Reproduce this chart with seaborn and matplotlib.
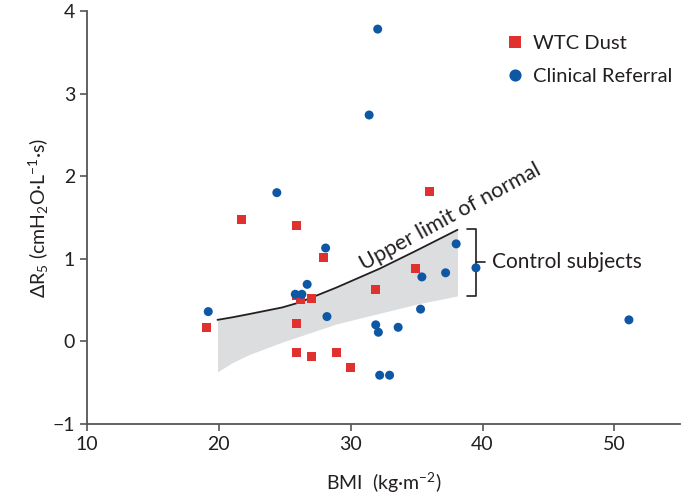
import numpy as np
import pandas as pd
import matplotlib
matplotlib.use("Agg")
import matplotlib.pyplot as plt
import seaborn as sns

sns.set_theme(style="ticks")
plt.rcParams["font.family"] = ["Lato", "DejaVu Sans"]
plt.rcParams["mathtext.fontset"] = "custom"
plt.rcParams["mathtext.rm"] = "Lato"
plt.rcParams["mathtext.it"] = "Lato:italic"

# WTC dust exposed subjects (red squares)
wtc_bmi = [21.7, 25.9, 36.0, 27.95, 25.9, 26.2, 27.0, 19.1, 25.9, 31.9, 34.9, 25.9, 27.0, 28.9, 30.0]
wtc_dr5 = [1.48, 1.40, 1.81, 1.01, 0.55, 0.51, 0.52, 0.17, 0.21, 0.63, 0.88, -0.13, -0.18, -0.13, -0.32]

# clinical referral subjects (blue circles)
clin_bmi = [32.05, 31.4, 24.4, 28.1, 38.0, 26.7, 25.8, 26.3, 19.2, 28.2,
            31.9, 32.1, 32.2, 32.95, 39.5, 37.2, 35.4, 35.3, 33.6, 51.1]
clin_dr5 = [3.78, 2.74, 1.80, 1.13, 1.18, 0.69, 0.57, 0.57, 0.36, 0.30,
            0.20, 0.11, -0.41, -0.41, 0.89, 0.83, 0.78, 0.39, 0.17, 0.26]

# control subjects band / upper limit of normal
band_bmi = [19.9, 21.0, 22.3, 24.8, 26.1, 28.9, 32.2, 35.0, 38.1]
band_upper = [0.26, 0.29, 0.33, 0.41, 0.47, 0.65, 0.88, 1.10, 1.35]
band_lower = [-0.37, -0.26, -0.16, -0.01, 0.06, 0.21, 0.34, 0.45, 0.55]

groups = ["WTC Dust", "Clinical Referral"]
red = "#e0312f"
blue = "#0e57a5"
ink = "#231f20"

df = pd.DataFrame({
    "BMI": wtc_bmi + clin_bmi,
    "dR5": wtc_dr5 + clin_dr5,
    "Group": [groups[0]] * len(wtc_bmi) + [groups[1]] * len(clin_bmi),
})

fig, ax = plt.subplots(figsize=(6.9, 4.97), dpi=100)
fig.subplots_adjust(left=0.126, right=0.986, bottom=0.147, top=0.978)

ax.fill_between(band_bmi, band_lower, band_upper, color="#dcdddf", lw=0, zorder=1)
ax.plot(band_bmi, band_upper, color=ink, lw=1.3, zorder=2)

sns.scatterplot(data=df, x="BMI", y="dR5", hue="Group", style="Group",
                palette={groups[0]: red, groups[1]: blue},
                markers={groups[0]: "s", groups[1]: "o"},
                s=42, linewidth=0, ax=ax, zorder=3)

# bracket for control subjects
ax.plot([38.8, 39.47, 39.47, 38.8], [1.36, 1.36, 0.55, 0.55], color=ink, lw=1.2, zorder=2)
ax.plot([39.47, 40.15], [0.96, 0.96], color=ink, lw=1.2, zorder=2)
ax.text(40.75, 0.96, "Control subjects", fontsize=15, color=ink, va="center", ha="left")
ax.text(31.0, 0.86, "Upper limit of normal", fontsize=15.6, color=ink,
        rotation=28.5, rotation_mode="anchor", ha="left", va="baseline")

ax.set_xlim(10, 55)
ax.set_ylim(-1, 4)
ax.set_xticks([10, 20, 30, 40, 50])
ax.set_yticks([-1, 0, 1, 2, 3, 4])
ax.set_yticklabels(["\u22121", "0", "1", "2", "3", "4"])
ax.tick_params(labelsize=14, colors=ink, length=5, width=1.2, color="#555555")
for side in ["top", "right"]:
    ax.spines[side].set_visible(False)
for side in ["left", "bottom"]:
    ax.spines[side].set_color("#555555")
    ax.spines[side].set_linewidth(1.3)

ax.set_xlabel("BMI  (kg·m$^{\u22122}$)", fontsize=14, color=ink, labelpad=13)
ax.set_ylabel("ΔR$_5$ (cmH$_2$O·L$^{\u22121}$·s)", fontsize=14, color=ink, labelpad=1)

leg = ax.legend(loc="upper left", bbox_to_anchor=(0.69, 0.961), frameon=False,
                fontsize=14.5, handlelength=1.0, handletextpad=0.4, labelspacing=0.8,
                markerscale=1.35, borderaxespad=0)
for t in leg.get_texts():
    t.set_color(ink)

plt.savefig("out.png", dpi=100)
